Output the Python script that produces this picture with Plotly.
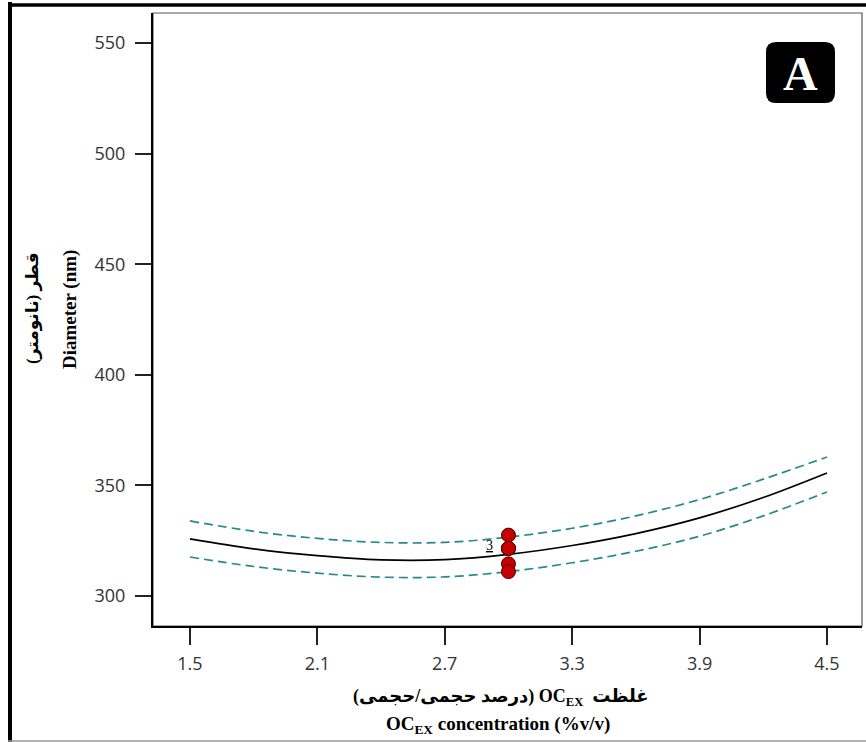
import plotly.graph_objects as go

# ---- data ----
conc = [1.5, 1.8, 2.1, 2.4, 2.7, 3.0, 3.3, 3.6, 3.9, 4.2, 4.5]
predicted = [325.8, 321.3, 318.2, 316.3, 316.4, 318.8, 322.8, 328.2, 335.3, 344.5, 355.6]
upper_ci = [333.9, 329.2, 326.0, 324.2, 324.2, 326.6, 330.6, 336.2, 343.6, 352.8, 362.8]
lower_ci = [317.6, 313.3, 310.3, 308.5, 308.6, 311.0, 315.0, 320.2, 327.0, 336.2, 347.0]

design_x = [3.0, 3.0, 3.0, 3.0, 3.0, 3.0]
design_y = [327.5, 321.5, 321.5, 321.5, 314.5, 311.0]

x_ticks = [1.5, 2.1, 2.7, 3.3, 3.9, 4.5]
x_ticktext = ["1.5", "2.1", "2.7", "3.3", "3.9", "4.5"]
y_ticks = [300, 350, 400, 450, 500, 550]

# ---- layout helpers (pixel -> paper) ----
W, H = 866, 742
ML, MR, MT, MB = 153, 4, 13, 116
PW, PH = W - ML - MR, H - MT - MB


def px(x):
    return (x - ML) / PW


def py(y):
    return (H - MB - y) / PH


fig = go.Figure()

dash_color = "#268a8c"
fig.add_trace(go.Scatter(x=conc, y=upper_ci, mode="lines",
                         line=dict(color=dash_color, width=1.7, dash="9px,5px", shape="spline"),
                         showlegend=False, hoverinfo="skip"))
fig.add_trace(go.Scatter(x=conc, y=lower_ci, mode="lines",
                         line=dict(color=dash_color, width=1.7, dash="9px,5px", shape="spline"),
                         showlegend=False, hoverinfo="skip"))
fig.add_trace(go.Scatter(x=conc, y=predicted, mode="lines",
                         line=dict(color="black", width=1.7, shape="spline"),
                         showlegend=False))
fig.add_trace(go.Scatter(x=design_x, y=design_y, mode="markers",
                         marker=dict(size=14, color="#c40000",
                                     line=dict(color="#4a0000", width=1)),
                         showlegend=False))

fig.add_annotation(x=design_x[1], y=design_y[1], text="<u>3</u>", showarrow=False,
                   xshift=-19, yshift=3, xanchor="center", yanchor="middle",
                   font=dict(family="Liberation Serif", size=14, color="black"))

serif = "Liberation Serif, DejaVu Sans, serif"

# axis titles as annotations
fig.add_annotation(xref="paper", yref="paper", x=px(33), y=py(308),
                   xanchor="center", yanchor="middle",
                   text="<b>قطر (نانومتر)</b>", textangle=-90, showarrow=False,
                   font=dict(family=serif, size=17, color="black"))
fig.add_annotation(xref="paper", yref="paper", x=px(70), y=py(310),
                   xanchor="center", yanchor="middle",
                   text="<b>Diameter (nm)</b>", textangle=-90, showarrow=False,
                   font=dict(family=serif, size=19, color="black"))
fig.add_annotation(xref="paper", yref="paper", x=px(501), y=py(698),
                   xanchor="center", yanchor="middle",
                   text="<b>(درصد حجمی/حجمی) OC<sub>EX</sub>  غلظت</b>",
                   showarrow=False,
                   font=dict(family=serif, size=18, color="black"))
fig.add_annotation(xref="paper", yref="paper", x=px(498), y=py(725),
                   xanchor="center", yanchor="middle",
                   text="<b>OC<sub>EX</sub> concentration (%v/v)</b>",
                   showarrow=False,
                   font=dict(family=serif, size=19, color="black"))

# panel label "A" in a rounded black box
x0, x1, y0, y1, r = 766, 835, 42, 103, 10
path = (f"M {px(x0 + r)} {py(y0)} L {px(x1 - r)} {py(y0)} "
        f"Q {px(x1)} {py(y0)} {px(x1)} {py(y0 + r)} "
        f"L {px(x1)} {py(y1 - r)} Q {px(x1)} {py(y1)} {px(x1 - r)} {py(y1)} "
        f"L {px(x0 + r)} {py(y1)} Q {px(x0)} {py(y1)} {px(x0)} {py(y1 - r)} "
        f"L {px(x0)} {py(y0 + r)} Q {px(x0)} {py(y0)} {px(x0 + r)} {py(y0)} Z")
fig.add_shape(type="path", path=path, xref="paper", yref="paper",
              fillcolor="black", line=dict(width=0), layer="above")
fig.add_annotation(xref="paper", yref="paper", x=px(800.5), y=py(73),
                   xanchor="center", yanchor="middle",
                   text="<b>A</b>", showarrow=False,
                   font=dict(family=serif, size=48, color="white"))

# plot-area frame (top/right thin)
fig.add_shape(type="rect", xref="paper", yref="paper", x0=0, x1=1, y0=0, y1=1,
              line=dict(color="#555555", width=1.2), layer="below")

# outer figure frame
fig.add_shape(type="line", xref="paper", yref="paper",
              x0=px(10), x1=px(10), y0=py(2), y1=py(742),
              line=dict(color="black", width=4))
fig.add_shape(type="line", xref="paper", yref="paper",
              x0=px(8), x1=px(866), y0=py(5), y1=py(5),
              line=dict(color="black", width=3.5))
fig.add_shape(type="line", xref="paper", yref="paper",
              x0=px(8), x1=px(866), y0=py(741), y1=py(741),
              line=dict(color="#999999", width=1.5))

tick_font = dict(family="Open Sans, DejaVu Sans, sans-serif", size=18, color="#333333")

fig.update_xaxes(range=[1.326, 4.665], tickvals=x_ticks, ticktext=x_ticktext,
                 showgrid=False, zeroline=False, showline=True,
                 linecolor="black", linewidth=2.2,
                 ticks="outside", ticklen=17, tickwidth=1.8, tickcolor="#222222",
                 tickfont=tick_font, ticklabelstandoff=3)
fig.update_yaxes(range=[286.4, 563.6], tickvals=y_ticks,
                 showgrid=False, zeroline=False, showline=True,
                 linecolor="black", linewidth=2.2,
                 ticks="outside", ticklen=16, tickwidth=1.5, tickcolor="#222222",
                 tickfont=tick_font, ticklabelstandoff=6)

fig.update_layout(width=W, height=H,
                  margin=dict(l=ML, r=MR, t=MT, b=MB),
                  paper_bgcolor="white", plot_bgcolor="white",
                  showlegend=False)

fig.write_html("out.html")
